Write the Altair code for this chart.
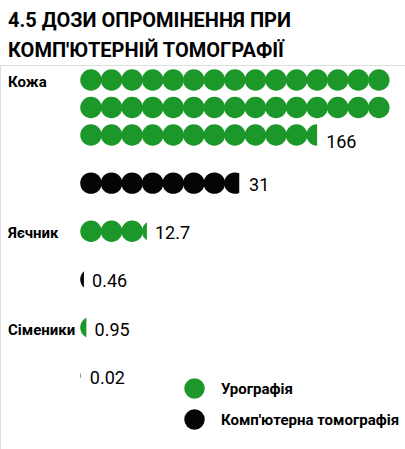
import math
import altair as alt
import pandas as pd

# ---- data ----
organs = ["Кожа", "Яєчник", "Сіменики"]
series_names = ["Урографія", "Комп'ютерна томографія"]
urography = [166, 12.7, 0.95]
ct = [31, 0.46, 0.02]
value_labels_uro = ["166", "12.7", "0.95"]
value_labels_ct = ["31", "0.46", "0.02"]

UNIT = 4          # value represented by one dot
PER_ROW = 15      # dots per row
GAP = 1.75        # vertical gap (in row units) between series rows

GREEN = "#1c982a"
BLACK = "#050505"
FONT = "Liberation Sans Narrow, Arial Narrow, Roboto, sans-serif"


def segment_depth(frac):
    """depth t (0..2, in radii) of a circular segment holding `frac` of the circle's area"""
    lo, hi = 0.0, 2.0
    for _ in range(60):
        t = (lo + hi) / 2
        a = (math.acos(1 - t) - (1 - t) * math.sqrt(max(0.0, 2 * t - t * t))) / math.pi
        if a < frac:
            lo = t
        else:
            hi = t
    return (lo + hi) / 2


def partial_path(frac):
    t = segment_depth(frac)
    a = -1 + t
    h = math.sqrt(max(0.0, 1 - a * a))
    large = 1 if a > 0 else 0
    return f"M{a:.4f},{-h:.4f}A1,1 0 {large} 0 {a:.4f},{h:.4f}Z"


dots, values, labels = [], [], []
row = -GAP
for i, organ in enumerate(organs):
    for j, (s, vals, vlabs) in enumerate(((series_names[0], urography, value_labels_uro),
                                          (series_names[1], ct, value_labels_ct))):
        row += GAP
        v = vals[i]
        n = v / UNIT
        full = int(math.floor(n))
        frac = n - full
        if j == 0:
            labels.append({"organ": organ, "row": row})
        for k in range(full):
            dots.append({"series": s, "col": k % PER_ROW + 0.5,
                         "row": row + k // PER_ROW, "shape": "circle"})
        if frac > 0:
            k = full
            dots.append({"series": s, "col": k % PER_ROW + 0.5,
                         "row": row + k // PER_ROW, "shape": partial_path(frac)})
        nrows = max(1, int(math.ceil(n / PER_ROW)))
        last_row = row + nrows - 1
        end = n - PER_ROW * (nrows - 1)
        # a label under a multi-row block sits slightly lower, as in the reference
        values.append({"label": vlabs[i], "x": end,
                       "row": last_row + (0.18 if nrows > 1 else 0)})
        row = last_row

dots_df = pd.DataFrame(dots)
values_df = pd.DataFrame(values)
labels_df = pd.DataFrame(labels)

xscale = alt.Scale(domain=[0, PER_ROW], range=[80.7, 389.1])
yscale = alt.Scale(domain=[0, 10], range=[15, 290])

points = alt.Chart(dots_df).mark_point(filled=True, opacity=1, size=462, strokeWidth=0).encode(
    x=alt.X("col:Q", scale=xscale, axis=None),
    y=alt.Y("row:Q", scale=yscale, axis=None),
    shape=alt.Shape("shape:N", scale=None, legend=None),
    color=alt.Color("series:N",
                    scale=alt.Scale(domain=series_names, range=[GREEN, BLACK]),
                    legend=alt.Legend(title=None, orient="none", legendX=184, legendY=313,
                                      symbolType="circle", symbolSize=420, symbolStrokeWidth=0,
                                      labelFont=FONT, labelFontSize=15, labelFontWeight="bold",
                                      labelColor="black", labelOffset=16, labelLimit=400,
                                      rowPadding=10, padding=0)),
)

value_text = alt.Chart(values_df).mark_text(
    align="left", baseline="middle", dx=9, dy=3, font=FONT, fontSize=18, color="black"
).encode(
    x=alt.X("x:Q", scale=xscale),
    y=alt.Y("row:Q", scale=yscale),
    text="label:N",
)

organ_text = alt.Chart(labels_df).mark_text(
    align="left", baseline="middle", dy=2, font=FONT, fontSize=15, fontWeight="bold", color="black"
).encode(
    x=alt.value(8),
    y=alt.Y("row:Q", scale=yscale),
    text="organ:N",
)

chart = alt.layer(points, value_text, organ_text).properties(
    width=405, height=384,
    padding={"left": 0, "top": 65, "right": 0, "bottom": 0},
    autosize=alt.AutoSizeParams(type="none"),
    title=alt.Title(text=["4.5 ДОЗИ ОПРОМІНЕННЯ ПРИ", "КОМП'ЮТЕРНІЙ ТОМОГРАФІЇ"],
                    anchor="start", font=FONT, fontSize=20, fontWeight="bold",
                    color="black", lineHeight=30, dx=8, offset=4),
).configure_view(stroke=None).configure(background="white")

chart.save("out.html", embed_options={"renderer": "svg", "actions": False})
